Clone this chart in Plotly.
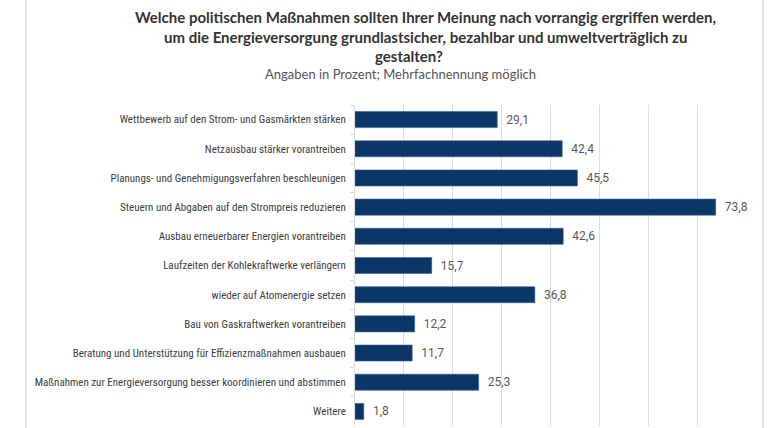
import plotly.graph_objects as go

categories = [
    "Wettbewerb auf den Strom- und Gasmärkten stärken",
    "Netzausbau stärker vorantreiben",
    "Planungs- und Genehmigungsverfahren beschleunigen",
    "Steuern und Abgaben auf den Strompreis reduzieren",
    "Ausbau erneuerbarer Energien vorantreiben",
    "Laufzeiten der Kohlekraftwerke verlängern",
    "wieder auf Atomenergie setzen",
    "Bau von Gaskraftwerken vorantreiben",
    "Beratung und Unterstützung für Effizienzmaßnahmen ausbauen",
    "Maßnahmen zur Energieversorgung besser koordinieren und abstimmen",
    "Weitere",
]
values = [29.1, 42.4, 45.5, 73.8, 42.6, 15.7, 36.8, 12.2, 11.7, 25.3, 1.8]
labels = ["\u2002" + f"{v:.1f}".replace(".", ",") for v in values]

title_lines = [
    "Welche politischen Maßnahmen sollten Ihrer Meinung nach vorrangig ergriffen werden,",
    "um die Energieversorgung grundlastsicher, bezahlbar und umweltverträglich zu",
    "gestalten?",
]
subtitle = "Angaben in Prozent; Mehrfachnennung möglich"

W, H = 768, 428
L, R, T, B = 355, 22, 105, 2
pw, ph = W - L - R, H - T - B

def px(x):
    return (x - L) / pw

def py(y):
    return (H - B - y) / ph

fig = go.Figure(go.Bar(
    x=values, y=categories, orientation="h",
    marker=dict(color="#0b3668", line=dict(color="#3a6496", width=0.6)),
    width=0.55,
    text=labels, textposition="outside", cliponaxis=False,
    textfont=dict(family="Roboto, sans-serif", size=12, color="#595959"),
))

annos = []
title_font = dict(family="Lato, Roboto, sans-serif", size=15, color="#333333")
for txt, cx, anchor, cy in [(title_lines[0], 425, "center", 17), (title_lines[1], 425, "center", 37),
                            (title_lines[2], 373, "left", 56)]:
    annos.append(dict(text="<b>" + txt + "</b>", x=px(cx), y=py(cy), xref="paper", yref="paper",
                      xanchor=anchor, yanchor="middle", showarrow=False, font=title_font))
annos.append(dict(text=subtitle, x=px(400), y=py(74), xref="paper", yref="paper",
                  xanchor="center", yanchor="middle", showarrow=False,
                  font=dict(family="Lato, Roboto, sans-serif", size=13, color="#555555")))

shapes = []
for xx in (26, 763):
    shapes.append(dict(type="line", xref="paper", yref="paper", x0=px(xx), x1=px(xx),
                       y0=py(H + 5), y1=py(-5), line=dict(color="#e6e6e6", width=2)))

fig.update_layout(
    width=W, height=H,
    margin=dict(l=L, r=R, t=T, b=B, pad=0),
    paper_bgcolor="white", plot_bgcolor="white",
    showlegend=False,
    annotations=annos, shapes=shapes,
    xaxis=dict(range=[0, 80], dtick=10, showgrid=True, gridcolor="#dcdcdc", gridwidth=1,
               showticklabels=False, zeroline=False, showline=False, fixedrange=True),
    yaxis=dict(autorange="reversed", showline=True, linecolor="#d9d9d9", linewidth=1,
               ticks="outside", ticklen=4, tickcolor="#d9d9d9", tickson="boundaries",
               ticklabelstandoff=6,
               tickfont=dict(family="Liberation Sans Narrow, Roboto Condensed, Roboto, sans-serif", size=11, color="#404040")),
    bargap=0.45,
)

fig.write_html("out.html")
